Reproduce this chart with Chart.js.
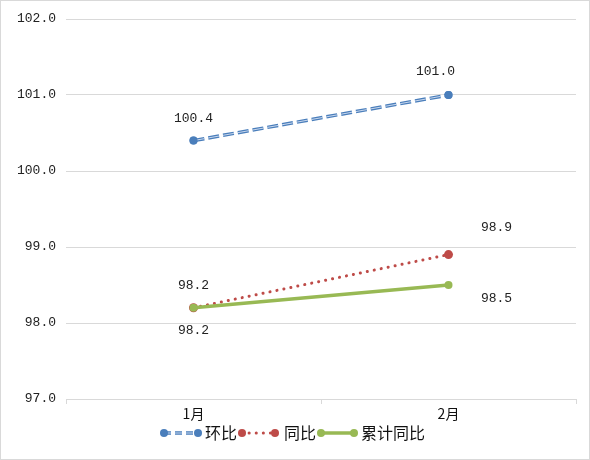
<!DOCTYPE html>
<html>
<head>
<meta charset="utf-8">
<script src="https://cdn.jsdelivr.net/npm/chart.js@4"></script>
<style>
  html, body { margin: 0; padding: 0; background: #fff; }
  #wrap { width: 590px; height: 460px; position: relative; box-sizing: border-box; border: 1px solid #d9d9d9; }
</style>
</head>
<body>
<div id="wrap"><canvas id="chart"></canvas></div>
<script>
const months = ["1月", "2月"];
const huanbi = [100.4, 101.0];
const tongbi = [98.2, 98.9];
const leiji = [98.2, 98.5];
const seriesNames = ["环比", "同比", "累计同比"];

const numFont = '"Liberation Mono", "DejaVu Sans Mono", monospace';
const cjkFont = '"Noto Sans CJK SC", sans-serif';

// where each value label sits relative to its point (dx, dy)
const labelPos = [
  [[0, -22], [-13, -23]],
  [[0, -22], [48, -27]],
  [[0, 23], [48, 14]]
];

// light core line inside the blue dashes (Excel double-line look)
const innerLinePlugin = {
  id: "innerLine",
  afterDatasetDraw(chart, args) {
    if (args.index !== 0) return;
    const pts = args.meta.data;
    const c = chart.ctx;
    c.save();
    c.strokeStyle = "#c9d8ee";
    c.lineWidth = 1;
    c.setLineDash([11, 4]);
    c.beginPath();
    pts.forEach((p, k) => k ? c.lineTo(p.x, p.y) : c.moveTo(p.x, p.y));
    c.stroke();
    c.restore();
    pts.forEach(p => p.draw(c, chart.chartArea));
  }
};

const labelsPlugin = {
  id: "valueLabels",
  afterDatasetsDraw(chart) {
    const c = chart.ctx;
    c.save();
    c.font = "13px " + numFont;
    c.fillStyle = "#222";
    c.textAlign = "center";
    c.textBaseline = "middle";
    chart.data.datasets.forEach((ds, i) => {
      chart.getDatasetMeta(i).data.forEach((pt, j) => {
        const off = labelPos[i][j];
        c.fillText(ds.data[j].toFixed(1), pt.x + off[0], pt.y + off[1]);
      });
    });
    c.restore();
  }
};

// legend drawn as Excel style: marker - line - marker, then text
const legendPlugin = {
  id: "lineLegend",
  afterDraw(chart) {
    const c = chart.ctx;
    const y = 432;
    const items = [[163, 197, 204], [241, 274, 283], [320, 353, 360]];
    c.save();
    chart.data.datasets.forEach((ds, i) => {
      const [x1, x2, tx] = items[i];
      c.strokeStyle = ds.borderColor;
      c.lineWidth = ds.borderWidth;
      c.lineCap = ds.borderCapStyle || "butt";
      c.setLineDash(i === 0 ? [7, 4] : (ds.borderDash || []));
      c.beginPath();
      c.moveTo(x1, y);
      c.lineTo(x2, y);
      c.stroke();
      if (i === 0) {
        c.strokeStyle = "#c9d8ee";
        c.lineWidth = 1;
        c.stroke();
      }
      c.setLineDash([]);
      c.fillStyle = ds.borderColor;
      [x1, x2].forEach(x => {
        c.beginPath();
        c.arc(x, y, 4, 0, Math.PI * 2);
        c.fill();
      });
      c.fillStyle = "#111";
      c.font = "16px " + cjkFont;
      c.textAlign = "left";
      c.textBaseline = "middle";
      c.fillText(ds.label, tx, y);
    });
    c.restore();
  }
};

const ctx = document.getElementById("chart").getContext("2d");
const chart = new Chart(ctx, {
  type: "line",
  data: {
    labels: months,
    datasets: [
      {
        label: seriesNames[0],
        data: huanbi,
        order: 2,
        borderColor: "#4a7ebb",
        backgroundColor: "#4a7ebb",
        borderWidth: 3.5,
        borderDash: [11, 4],
        pointRadius: 4,
        pointBorderWidth: 0,
        pointHoverRadius: 4,
        fill: false
      },
      {
        label: seriesNames[1],
        data: tongbi,
        order: 1,
        borderColor: "#be4b48",
        backgroundColor: "#be4b48",
        borderWidth: 3,
        borderDash: [0.1, 7],
        borderCapStyle: "round",
        pointRadius: 4.5,
        pointBorderWidth: 0,
        pointHoverRadius: 4.5,
        fill: false
      },
      {
        label: seriesNames[2],
        data: leiji,
        order: 0,
        borderColor: "#98b954",
        backgroundColor: "#98b954",
        borderWidth: 3.5,
        pointRadius: 4,
        pointBorderWidth: 0,
        pointHoverRadius: 4,
        fill: false
      }
    ]
  },
  options: {
    animation: false,
    responsive: true,
    maintainAspectRatio: false,
    layout: { padding: { top: 18, right: 13, left: 0, bottom: 0 } },
    plugins: {
      legend: { display: false },
      tooltip: { enabled: false }
    },
    scales: {
      x: {
        offset: true,
        afterFit: s => { s.height = 60; },
        grid: {
          offset: true,
          drawOnChartArea: false,
          drawTicks: true,
          tickLength: 5,
          color: "#d9d9d9"
        },
        border: { display: true, color: "#d9d9d9" },
        ticks: {
          color: "#111",
          font: { family: cjkFont, size: 14 },
          padding: 1
        }
      },
      y: {
        min: 97,
        max: 102,
        afterFit: s => { s.width = 65; },
        grid: { color: "#d9d9d9", drawTicks: false },
        border: { display: false },
        ticks: {
          stepSize: 1,
          color: "#222",
          padding: 10,
          font: { family: numFont, size: 13 },
          callback: v => v.toFixed(1)
        }
      }
    }
  },
  plugins: [innerLinePlugin, labelsPlugin, legendPlugin]
});
</script>
</body>
</html>
